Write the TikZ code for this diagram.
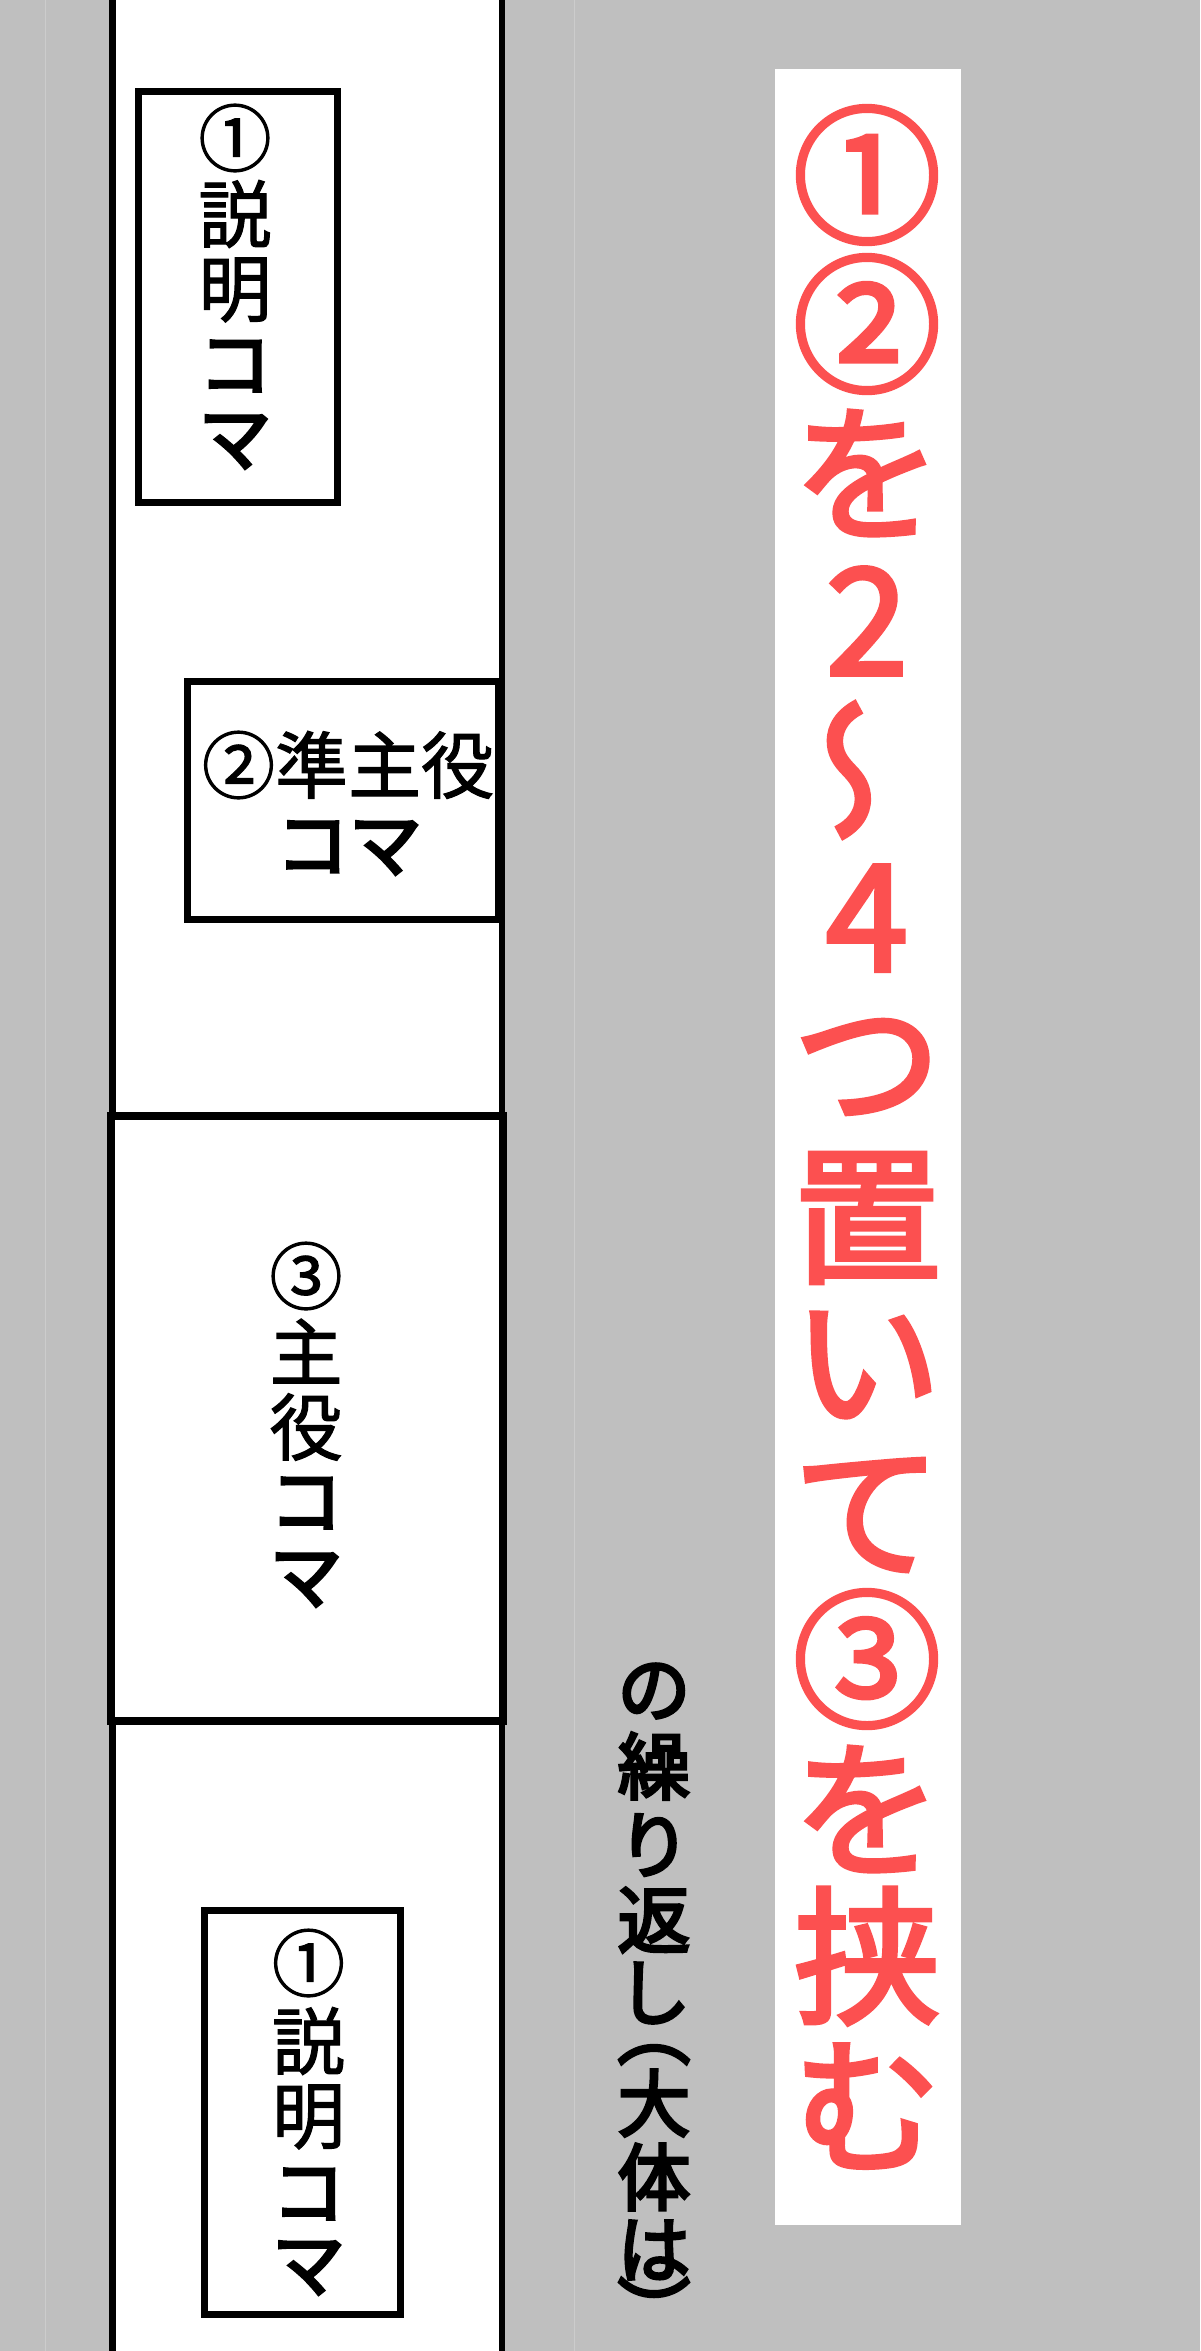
\documentclass[tikz,border=0pt]{standalone}
\usepackage{fontspec}
\newfontfamily\jp{Noto Sans CJK JP}[FakeBold=1.5]
\newfontfamily\jpkana{Noto Sans CJK JP}[FakeBold=4]
\newfontfamily\jpred{Noto Sans CJK JP}[FakeBold=3]
\newfontfamily\jpside{Noto Sans CJK JP}[FakeBold=4]
\definecolor{bg}{RGB}{191,191,191}
\definecolor{faint}{RGB}{204,204,204}
\definecolor{redtxt}{RGB}{252,80,80}
\begin{document}
\begin{tikzpicture}[x=0.5pt,y=-0.5pt,
  frame/.style={draw=black,line width=3.5pt},
  boxtxt/.style={inner sep=0pt,font=\jp\fontsize{36.5}{36.5}\selectfont},
  boxkana/.style={inner sep=0pt,font=\jpkana\fontsize{36.5}{36.5}\selectfont},
  redch/.style={inner sep=0pt,text=redtxt,font=\jpred\fontsize{74}{74}\selectfont},
  blkch/.style={inner sep=0pt,font=\jpside\fontsize{36.5}{36.5}\selectfont}]
% background and bounding box
\fill[bg] (0,0) rectangle (1200,2351);
\useasboundingbox (0,0) rectangle (1200,2351);
\draw[faint,line width=0.5pt] (45,0) -- (45,2351);
\draw[faint,line width=0.5pt] (574,0) -- (574,2351);
% white strip
\fill[white] (112.3,0) rectangle (501.8,2351);
\draw[line width=3.25pt] (112.3,-5) -- (112.3,2356);
\draw[line width=3.25pt] (501.8,-5) -- (501.8,2356);
% panels
\draw[frame,fill=white] (138.2,91.5) rectangle (337.5,502) node[pos=0,inner sep=0pt] (p1) {};
\draw[frame,fill=white] (187.2,681) rectangle (498,919) node[pos=0,inner sep=0pt] (p2) {};
\draw[frame,line width=4pt,fill=white] (110.5,1115.5) rectangle (502.8,1720.5) node[pos=0,inner sep=0pt] (p3) {};
\draw[frame,fill=white] (204,1910.5) rectangle (400.5,2314.5) node[pos=0,inner sep=0pt] (p4) {};
% panel 1 text
\foreach \c/\yy/\st [count=\i] in {①/138/boxtxt,説/214/boxtxt,明/290/boxtxt,コ/366/boxkana,マ/442/boxkana}
  \node[\st] (a\i) at (235,\yy) {\c};
% panel 2 text
\node[boxtxt] (b1) at (348,765) {②準主役};
\node[boxkana] (b2) at (349,848) {コマ};
% panel 3 text
\foreach \c/\yy/\st [count=\i] in {③/1276/boxtxt,主/1351/boxtxt,役/1427/boxtxt,コ/1503/boxkana,マ/1580/boxkana}
  \node[\st] (c\i) at (306,\yy) {\c};
% panel 4 text
\foreach \c/\yy/\st [count=\i] in {①/1963/boxtxt,説/2041/boxtxt,明/2117/boxtxt,コ/2194/boxkana,マ/2268/boxkana}
  \node[\st] (d\i) at (308.5,\yy) {\c};
% red title
\fill[white] (775,69) rectangle (961,2225);
\foreach \c/\yy [count=\i] in {①/175,②/324,を/473,2/621,4/918,つ/1068,置/1218,い/1365,て/1515,③/1659,を/1809,挟/1956,む/2106}
  \node[redch] (r\i) at (867,\yy) {\c};
\node[redch,rotate=90,xscale=-1] (rw) at (867,770) {〜};
% black side text
\foreach \c/\yy [count=\i] in {の/1691,繰/1766,り/1845,返/1920,し/1993,大/2103,体/2177,は/2250}
  \node[blkch] (s\i) at (654,\yy) {\c};
\node[blkch,rotate=-90] (sp1) at (654,2031) {（};
\node[blkch,rotate=-90] (sp2) at (654,2311) {）};
\end{tikzpicture}
\end{document}
